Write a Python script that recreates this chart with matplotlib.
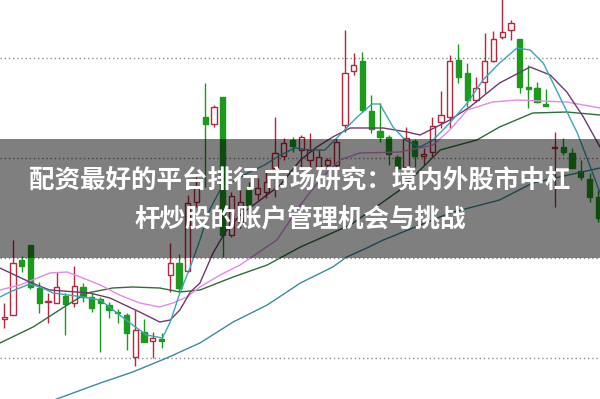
import matplotlib
matplotlib.use("Agg")
import matplotlib.pyplot as plt
import numpy as np

# daily candles (price units, gridlines at 7/8/9/10)
opens = [7.39, 7.43, 7.98, 8.13, 7.70, 7.56, 7.55, 7.62, 7.55, 7.71,
         7.61, 7.59, 7.53, 7.46, 7.43, 7.01, 7.26, 7.17, 7.19, 7.83,
         7.95, 7.87, 8.56, 9.41, 9.34, 9.61, 8.23, 8.36, 8.68, 8.64,
         8.66, 8.90, 9.02, 9.18, 9.08, 8.98, 8.91, 8.93, 8.93, 9.33,
         9.87, 9.97, 9.47, 9.27, 9.21, 9.01, 8.91, 9.17, 9.02, 9.06,
         9.36, 9.41, 9.98, 9.85, 9.58, 9.76, 9.97, 10.21, 10.28, 10.19,
         9.71, 9.70, 9.54, 9.10, 9.11, 9.05, 8.87, 8.79, 8.61]
highs = [7.55, 8.18, 8.02, 8.13, 7.76, 7.65, 7.86, 7.65, 7.92, 7.75,
         7.65, 7.61, 7.56, 7.49, 7.45, 7.48, 7.39, 7.26, 7.25, 8.15,
         8.04, 8.63, 8.81, 9.75, 9.53, 9.61, 8.66, 8.68, 8.76, 8.80,
         8.88, 9.41, 9.20, 9.21, 9.23, 9.25, 9.08, 9.00, 9.20, 10.28,
         10.05, 10.06, 9.63, 9.55, 9.23, 9.03, 9.31, 9.19, 9.10, 9.41,
         9.67, 10.03, 10.14, 9.95, 9.81, 10.25, 10.27, 10.63, 10.38, 10.19,
         9.93, 9.76, 9.69, 9.26, 9.20, 9.10, 8.98, 8.85, 8.68]
lows = [7.30, 7.43, 7.86, 7.69, 7.45, 7.35, 7.55, 7.23, 7.51, 7.56,
        7.46, 7.06, 7.40, 7.35, 7.08, 6.92, 7.16, 7.00, 7.10, 7.66,
        7.66, 7.86, 8.51, 8.71, 9.31, 8.01, 8.21, 8.30, 8.43, 8.58,
        8.60, 8.61, 8.98, 9.06, 8.90, 8.91, 8.91, 8.90, 8.91, 9.26,
        9.83, 9.46, 9.25, 9.16, 8.93, 8.88, 8.90, 8.91, 8.93, 9.01,
        9.30, 9.30, 9.75, 9.51, 9.56, 9.65, 9.96, 10.19, 10.18, 9.65,
        9.50, 9.55, 9.52, 8.51, 9.03, 8.90, 8.78, 8.56, 8.36]
closes = [7.41, 7.95, 7.92, 7.71, 7.55, 7.57, 7.71, 7.54, 7.72, 7.61,
          7.50, 7.55, 7.48, 7.45, 7.25, 7.28, 7.16, 7.20, 7.17, 7.95,
          7.70, 8.55, 8.71, 9.34, 9.51, 8.23, 8.62, 8.56, 8.53, 8.70,
          8.76, 9.05, 9.15, 9.12, 9.21, 9.08, 9.01, 8.98, 9.16, 9.85,
          9.93, 9.48, 9.29, 9.21, 9.04, 8.90, 9.20, 9.02, 9.04, 9.32,
          9.43, 9.97, 9.81, 9.58, 9.70, 9.97, 10.19, 10.26, 10.35, 9.71,
          9.69, 9.56, 9.52, 9.11, 9.06, 8.90, 8.81, 8.61, 8.40]

# moving-average lines: (candle position, price)
ma5_x = [-0.5, 0.65, 2.9, 4.1, 5.6, 9.0, 11.0, 12.9, 14.7, 16.3, 18.1, 19.0,
         20.1, 21.3, 22.4, 23.5, 24.7, 26.4, 28.1, 29.8, 31.6, 33.3, 35.0,
         36.7, 38.4, 40.4, 42.1, 43.0, 44.5, 45.9, 47.6, 49.1, 51.0, 53.0,
         54.8, 56.7, 58.7, 60.2, 61.7, 63.6, 65.6, 67.1, 68.2]
ma5_y = [7.61, 7.66, 7.74, 7.71, 7.65, 7.61, 7.58, 7.45, 7.33, 7.23, 7.20, 7.36,
         7.65, 7.91, 8.18, 8.48, 8.68, 8.78, 8.86, 8.93, 9.03, 9.10, 9.08,
         9.08, 9.23, 9.41, 9.54, 9.54, 9.31, 9.18, 9.11, 9.18, 9.35, 9.55,
         9.78, 9.95, 10.10, 10.08, 9.95, 9.61, 9.25, 8.91, 8.65]

ma10_x = [-0.5, 2.9, 5.2, 9.8, 12.1, 15.5, 17.8, 19.0, 20.1, 21.3, 22.4, 23.9,
          25.3, 27.0, 29.3, 31.6, 33.9, 35.8, 37.6, 39.6, 43.4, 46.1, 47.6,
          49.9, 51.0, 53.3, 56.7, 60.2, 62.5, 64.4, 66.3, 68.2]
ma10_y = [7.90, 7.76, 7.68, 7.65, 7.60, 7.46, 7.36, 7.38, 7.48, 7.66, 7.75, 8.05,
          8.26, 8.43, 8.58, 8.73, 8.98, 9.11, 9.21, 9.30, 9.30, 9.26, 9.23,
          9.33, 9.38, 9.51, 9.75, 9.91, 9.83, 9.66, 9.41, 9.11]

ma20_x = [-0.5, 1.8, 5.2, 7.2, 8.7, 11.0, 13.2, 15.5, 17.8, 19.3, 20.9, 22.4,
          24.7, 27.0, 31.2, 33.9, 36.1, 38.4, 40.7, 45.3, 49.1, 51.0, 53.0,
          55.9, 58.7, 64.4, 68.2]
ma20_y = [7.68, 7.73, 7.85, 7.86, 7.81, 7.73, 7.63, 7.55, 7.51, 7.55, 7.61, 7.71,
          7.83, 7.93, 8.18, 8.53, 8.78, 8.98, 9.05, 9.06, 9.13, 9.28, 9.48,
          9.56, 9.58, 9.56, 9.50]

ma30_x = [-0.5, 3.3, 7.2, 9.5, 12.4, 14.7, 17.8, 20.1, 22.4, 26.2, 30.1, 33.9,
          39.6, 45.3, 49.9, 54.1, 56.7, 60.5, 64.4, 68.2]
ma30_y = [7.15, 7.31, 7.53, 7.65, 7.70, 7.71, 7.70, 7.66, 7.68, 7.81, 7.93, 8.11,
          8.33, 8.68, 9.08, 9.18, 9.31, 9.45, 9.46, 9.43]

ma120_x = [4.0, 6.0, 11.0, 14.7, 18.6, 22.4, 26.2, 30.1, 33.9, 37.6, 39.2, 41.5,
           43.4, 51.0, 56.7, 60.5, 65.6, 68.2]
ma120_y = [6.52, 6.59, 6.75, 6.86, 7.00, 7.15, 7.36, 7.53, 7.75, 7.91, 8.01, 8.10,
           8.18, 8.45, 8.58, 8.75, 8.85, 8.90]

grid_levels = [7, 8, 9, 10]
title_lines = ["配资最好的平台排行 市场研究：境内外股市中杠",
               "杆炒股的账户管理机会与挑战"]

plt.rcParams["font.family"] = ["Noto Sans CJK SC", "DejaVu Sans"]

RED = "#b8283c"
GREEN = "#1c9a1c"

fig = plt.figure(figsize=(6, 3.99), dpi=100)
ax = fig.add_axes([0, 0, 1, 1])
ax.set_xlim(-0.49, 68.2)
ax.set_ylim(6.59, 10.58)
ax.axis("off")

for lvl in grid_levels:
    ax.axhline(lvl, color="#8c8c8c", lw=1.0, ls=(0, (1, 2)), zorder=1)

x = np.arange(len(opens))
o = np.array(opens)
c = np.array(closes)
up = c >= o
colors = np.where(up, RED, GREEN)

ax.vlines(x, lows, highs, colors=colors, lw=1.0, zorder=2)
body_lo = np.minimum(o, c)
body_h = np.maximum(np.abs(c - o), 0.012)
ax.bar(x[up], body_h[up], bottom=body_lo[up], width=0.6,
       facecolor="white", edgecolor=RED, lw=1.0, zorder=3)
ax.bar(x[~up], body_h[~up], bottom=body_lo[~up], width=0.6,
       facecolor=GREEN, edgecolor=GREEN, lw=1.0, zorder=3)

ax.plot(ma120_x, ma120_y, color="#3c8c9c", lw=1.0, zorder=4)
ax.plot(ma30_x, ma30_y, color="#2e6e3a", lw=1.0, zorder=4)
ax.plot(ma20_x, ma20_y, color="#e08ce6", lw=1.0, zorder=4)
ax.plot(ma10_x, ma10_y, color="#703a6c", lw=1.0, zorder=4)
ax.plot(ma5_x, ma5_y, color="#3aa6b6", lw=1.0, zorder=4)

# grey banner across the middle
ax.axhspan(8.00, 9.19, color="black", alpha=0.5, lw=0, zorder=6)

fig.text(0.5, 0.549, title_lines[0], color="white", fontsize=18.4,
         fontweight="bold", ha="center", va="center")
fig.text(0.5, 0.451, title_lines[1], color="white", fontsize=18.4,
         fontweight="bold", ha="center", va="center")

fig.savefig("out.png", dpi=100)
